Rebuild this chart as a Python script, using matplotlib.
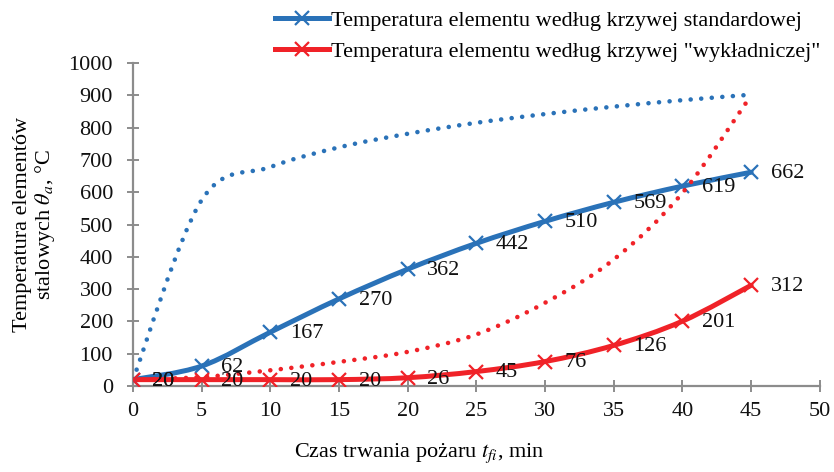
import matplotlib
matplotlib.use('Agg')
import matplotlib.pyplot as plt
from matplotlib.path import Path
from matplotlib.patches import PathPatch
from matplotlib.lines import Line2D

plt.rcParams['font.family'] = ['Liberation Serif', 'DejaVu Serif']
plt.rcParams['mathtext.fontset'] = 'stix'

czas = [0, 5, 10, 15, 20, 25, 30, 35, 40, 45]
stal_standard = [20, 62, 167, 270, 362, 442, 510, 569, 619, 662]
stal_wykl = [20, 20, 20, 20, 26, 45, 76, 126, 201, 312]
gaz_standard = [20, 576, 678, 739, 781, 815, 842, 865, 885, 902]
gaz_wykl = [20, 28, 49, 75, 106, 160, 258, 392, 598, 900]

NIEBIESKI = '#2a72b8'
CZERWONY = '#f02228'
SZARY = '#8c8c8c'
FS = 16


def gladka_sciezka(x, y):
    # wygladzanie jak w Excelu: krzywe Beziera, styczne z sasiednich punktow / 6
    n = len(x)
    verts = [(x[0], y[0])]
    codes = [Path.MOVETO]
    for i in range(n - 1):
        p0 = max(i - 1, 0)
        p3 = min(i + 2, n - 1)
        c1 = (x[i] + (x[i + 1] - x[p0]) / 6, y[i] + (y[i + 1] - y[p0]) / 6)
        c2 = (x[i + 1] - (x[p3] - x[i]) / 6, y[i + 1] - (y[p3] - y[i]) / 6)
        verts += [c1, c2, (x[i + 1], y[i + 1])]
        codes += [Path.CURVE4] * 3
    return Path(verts, codes)


fig = plt.figure(figsize=(8.34, 4.72), dpi=100)
ax = fig.add_axes([0.1595, 0.182, 0.8235, 0.6845])

# krzywe temperatury stali (ciagle, z markerami)
for y, kolor in [(stal_standard, NIEBIESKI), (stal_wykl, CZERWONY)]:
    ax.add_patch(PathPatch(gladka_sciezka(czas, y), fill=False, edgecolor=kolor,
                           linewidth=3.6, capstyle='round', joinstyle='round', zorder=3))
    ax.plot(czas, y, linestyle='none', marker='x', markersize=10, markeredgewidth=1.6,
            color=kolor, zorder=4)

# krzywe temperatury gazow (kropkowane)
for y, kolor in [(gaz_standard, NIEBIESKI), (gaz_wykl, CZERWONY)]:
    ax.add_patch(PathPatch(gladka_sciezka(czas, y), fill=False, edgecolor=kolor,
                           linewidth=3.3, linestyle=(0, (0.01, 2.3)), capstyle='round',
                           zorder=5))

# etykiety wartosci
for y in [stal_standard, stal_wykl]:
    for t, v in zip(czas, y):
        ax.annotate(str(v), (t, v), xytext=(14, -1), textcoords='offset points',
                    ha='left', va='center', fontsize=FS, color='#111111', zorder=6)

ax.set_xlim(0, 50)
ax.set_ylim(0, 1000)
ax.set_xticks(range(0, 51, 5))
ax.set_yticks(range(0, 1001, 100))
for s in ['top', 'right']:
    ax.spines[s].set_visible(False)
for s in ['left', 'bottom']:
    ax.spines[s].set_color(SZARY)
    ax.spines[s].set_linewidth(1.6)
ax.tick_params(direction='inout', length=9, width=1.4, color=SZARY,
               labelsize=FS, labelcolor='#111111')
ax.tick_params(axis='y', pad=10)
ax.tick_params(axis='x', pad=7)

ax.set_ylabel('Temperatura elementów\nstalowych $\\theta_a$, °C', fontsize=FS,
              linespacing=1.1, labelpad=8)
fig.text(0.503, 0.04, 'Czas trwania pożaru $t_{fi}$, min', ha='center', va='center',
         fontsize=FS)

uchwyty = [Line2D([], [], color=NIEBIESKI, lw=3.6, marker='x', ms=10, mew=1.6),
           Line2D([], [], color=CZERWONY, lw=3.6, marker='x', ms=10, mew=1.6)]
fig.legend(uchwyty, ['Temperatura elementu według krzywej standardowej',
                     'Temperatura elementu według krzywej "wykładniczej"'],
           loc='upper left', bbox_to_anchor=(0.306, 1.02), frameon=False,
           fontsize=FS, handlelength=2.4, handletextpad=0.1, labelspacing=0.45)

fig.savefig('out.png', dpi=100)
